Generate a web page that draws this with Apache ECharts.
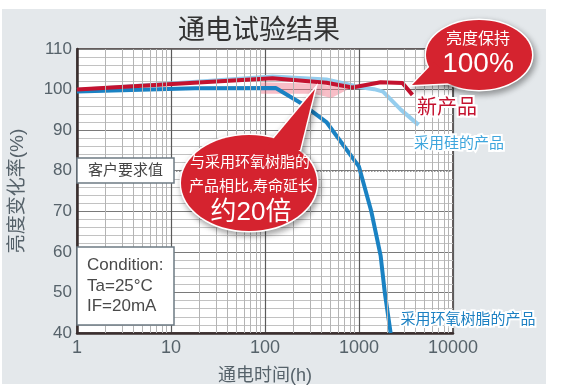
<!DOCTYPE html>
<html><head><meta charset="utf-8">
<script src="https://cdn.jsdelivr.net/npm/echarts@6/dist/echarts.min.js"></script>
<style>html,body{margin:0;padding:0;background:#fff}#c{width:562px;height:391px}</style>
</head><body><div id="c"></div>
<script>
const FONT = '"Liberation Sans", "Noto Sans CJK SC", sans-serif';
const titleText = '通电试验结果';
const xName = '通电时间(h)';
const yName = '亮度变化率(%)';
const xMin = 1, xMax = 10000;
const yMin = 40, yMax = 110, yStep = 10;
const minorX = [2,3,4,5,6,7,8,9,20,30,40,50,60,70,80,90,200,300,400,500,600,700,800,900,2000,3000,4000,5000,6000,7000,8000,9000];
const requirementLevel = 80;
const newHours = [1, 120, 450, 850, 1700, 2900, 3700];
const newValues = [100.0, 102.8, 101.7, 100.5, 101.8, 101.6, 98.7];
const siliconeHours = [1, 120, 450, 800, 1000, 1450, 1800, 2800, 4300];
const siliconeValues = [99.9, 103.2, 102.5, 101.2, 100.6, 100.1, 99.5, 95.0, 91.3];
const epoxyHours = [1, 18, 130, 240, 450, 1000, 1350, 1700, 1880, 2170];
const epoxyValues = [99.5, 100.3, 100.4, 96.7, 92.0, 81.0, 70, 59, 50, 40];
const arrowHours = [89, 300, 817, 507, 330, 89];
const arrowValues = [101.8, 101.5, 100.4, 97.9, 99.0, 99.0];

const zip = (a, b) => a.map((v, i) => [v, b[i]]);
const chart = echarts.init(document.getElementById('c'), null, {renderer: 'canvas'});

function txt(text, x, y, size, color, align, extra) {
  return Object.assign({
    type: 'text', x: x, y: y, z: 100,
    style: Object.assign({
      text: text, fill: color, font: size + 'px ' + FONT,
      textAlign: align || 'center', textVerticalAlign: 'middle',
      align: align || 'center', verticalAlign: 'middle'
    }, extra || {})
  });
}
const shadow = {shadowBlur: 6, shadowColor: 'rgba(0,0,0,0.35)', shadowOffsetX: 2, shadowOffsetY: 3};
function bubble(cx, cy, rx, ry, tail) {
  return [
    {type: 'ellipse', z: 100, shape: {cx: cx, cy: cy, rx: rx, ry: ry}, style: Object.assign({fill: '#d5232f', stroke: '#fff', lineWidth: 3}, shadow)},
    {type: 'polygon', z: 100, shape: {points: tail}, style: Object.assign({fill: '#d5232f', stroke: '#fff', lineWidth: 3, lineJoin: 'miter'}, shadow)},
    {type: 'ellipse', z: 100, shape: {cx: cx, cy: cy, rx: rx, ry: ry}, style: {fill: '#d5232f'}},
    {type: 'polygon', z: 100, shape: {points: tail}, style: {fill: '#d5232f'}}
  ];
}

const graphics = [
  {type: 'rect', z: -10, shape: {x: 2, y: 9, width: 544, height: 375}, style: {fill: '#e4e8eb'}},
  txt(titleText, 259, 32, 27, '#333'),
  {type: 'rect', z: 100, shape: {x: 77, y: 158, width: 97, height: 25}, style: {fill: '#fff', stroke: '#6e7b84', lineWidth: 1.5}},
  txt('客户要求值', 125.5, 171, 15, '#444'),
  {type: 'rect', z: 100, shape: {x: 77, y: 247, width: 97, height: 78}, style: {fill: '#fff', stroke: '#6e7b84', lineWidth: 1.5}},
  txt('Condition:', 87, 265, 17, '#4a4a4a', 'left'),
  txt('Ta=25°C', 87, 286.5, 17, '#4a4a4a', 'left'),
  txt('IF=20mA', 87, 306.5, 17, '#4a4a4a', 'left')
].concat(
  bubble(249, 183, 68, 48, [[264, 150], [315, 89], [300, 150]]),
  [
    txt('与采用环氧树脂的', 250, 163, 15, '#fff'),
    txt('产品相比,寿命延长', 251, 187, 15, '#fff'),
    txt('约20倍', 251, 213, 26, '#fff')
  ],
  bubble(479, 55, 53, 35, [[434, 62], [412, 85], [455, 83]]),
  [
    txt('亮度保持', 478, 40, 16, '#fff'),
    txt('100%', 478, 64, 28, '#fff'),
    txt('新产品', 447, 108, 20, '#c4122f', 'center', {stroke: '#fff', lineWidth: 4}),
    txt('采用硅的产品', 459, 144, 15, '#3ea6dd', 'center', {stroke: '#fff', lineWidth: 4}),
    txt('采用环氧树脂的产品', 468, 320, 15, '#1c80c2', 'center', {stroke: '#fff', lineWidth: 4})
  ]
);

const option = {
  backgroundColor: '#fff',
  animation: false,
  grid: {left: 67, right: 109, top: 49, bottom: 58, show: true, backgroundColor: '#fff', borderColor: '#3a2e2e', borderWidth: 1.5},
  xAxis: {
    type: 'log', logBase: 10, min: xMin, max: xMax,
    name: xName, nameLocation: 'middle', nameGap: 34,
    nameTextStyle: {fontSize: 18, color: '#56626a', fontFamily: FONT},
    axisLine: {show: true, lineStyle: {color: '#3a2e2e', width: 2.5}},
    axisTick: {show: false},
    axisLabel: {fontSize: 18, color: '#56626a', margin: 6, fontFamily: FONT, formatter: v => String(Math.round(v))},
    splitLine: {show: true, lineStyle: {color: '#5a5a5a', width: 1.2}}
  },
  yAxis: {
    type: 'value', min: yMin, max: yMax, interval: yStep,
    name: yName, nameLocation: 'middle', nameGap: 50, nameRotate: 90,
    nameTextStyle: {fontSize: 19, color: '#56626a', fontFamily: FONT},
    axisLine: {show: true, lineStyle: {color: '#3a2e2e', width: 2.5}},
    axisTick: {show: false},
    axisLabel: {fontSize: 17, color: '#56626a', margin: 5, fontFamily: FONT},
    splitLine: {show: true, lineStyle: {color: '#7a7a7a', width: 1.2}},
    minorTick: {show: false, splitNumber: 5},
    minorSplitLine: {show: true, lineStyle: {color: '#c2c2c2', width: 1}}
  },
  graphic: graphics,
  series: [
    {
      type: 'line', z: 1, data: [[1, 40]], showSymbol: false, lineStyle: {opacity: 0}, silent: true,
      markLine: {
        silent: true, symbol: ['none', 'none'], label: {show: false},
        lineStyle: {color: '#b4b4b4', width: 1, type: 'solid'},
        data: minorX.map(v => ({xAxis: v}))
          .concat([{yAxis: requirementLevel, lineStyle: {color: '#777', width: 1.5, type: 'dotted'}}])
      }
    },
    {type: 'line', z: 3, data: zip(siliconeHours, siliconeValues), showSymbol: false, lineStyle: {color: '#94cdee', width: 4}},
    {type: 'line', z: 3, data: zip(epoxyHours, epoxyValues), showSymbol: false, lineStyle: {color: '#1a82c3', width: 4}},
    {
      type: 'custom', z: 3, data: zip(arrowHours, arrowValues), silent: true,
      renderItem: function (params, api) {
        if (params.dataIndex !== 0) return {type: 'group', children: []};
        const pts = arrowHours.map((h, i) => api.coord([h, arrowValues[i]]));
        return {type: 'polygon', shape: {points: pts}, style: {fill: 'rgba(240,110,130,0.45)'}};
      }
    },
    {type: 'line', z: 3, data: zip(newHours, newValues), showSymbol: false, lineStyle: {color: '#c4122f', width: 4}}
  ]
};
chart.setOption(option);
</script>
</body></html>
